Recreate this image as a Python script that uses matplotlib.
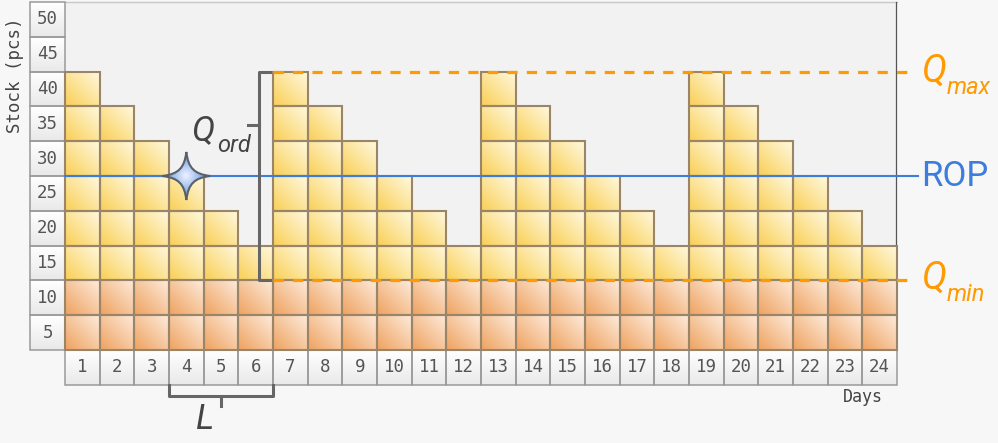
import numpy as np
import matplotlib
matplotlib.use("Agg")
import matplotlib.pyplot as plt
from matplotlib.patches import Rectangle, PathPatch
from matplotlib.path import Path
from matplotlib.colors import LinearSegmentedColormap

# data
days = list(range(1, 25))
stock = [40, 35, 30, 25, 20, 15, 40, 35, 30, 25, 20, 15,
         40, 35, 30, 25, 20, 15, 40, 35, 30, 25, 20, 15]
y_ticks = [5, 10, 15, 20, 25, 30, 35, 40, 45, 50]
box_size = 5
q_min = 10
q_max = 40
rop = 25
lead_days = [4, 5, 6]
rop_day = 4

yellow = LinearSegmentedColormap.from_list("y", ["#f9cf55", "#fff9e0"])
orange = LinearSegmentedColormap.from_list("o", ["#efa25f", "#fdebdc"])
gray = LinearSegmentedColormap.from_list("g", ["#e9e9e9", "#ffffff"])
starcm = LinearSegmentedColormap.from_list("s", ["#8aaee9", "#eef4ff"])

n = 40
xx, yy = np.meshgrid(np.linspace(0, 1, n), np.linspace(0, 1, n))
diag = (xx + yy) / 2
vert = yy

fig = plt.figure(figsize=(9.98, 4.43), dpi=100)
fig.patch.set_facecolor("#f7f7f7")
ax = fig.add_axes([0, 0, 1, 1])
cw, rh = 34.67, 34.8
xlim = (-65 / cw, (998 - 65) / cw)
ylim = ((350 - 443) / rh, 350 / rh)
ax.axis("off")

nrows = len(y_ticks)
ncols = len(days)
# plot background
ax.add_patch(Rectangle((0, 0), ncols, nrows, facecolor="#f2f2f2", edgecolor="none", zorder=0))
ax.plot([0, ncols], [nrows, nrows], color="#c8c8c8", lw=1, zorder=1)
ax.plot([ncols - 0.03, ncols - 0.03], [0, nrows], color="#555555", lw=0.9, zorder=1)

mono = "DejaVu Sans Mono"

def cell(x, y, label):
    ax.imshow(vert, extent=(x, x + 1, y, y + 1), cmap=gray, origin="lower",
              aspect="auto", zorder=2, interpolation="bilinear")
    ax.add_patch(Rectangle((x, y), 1, 1, facecolor="none", edgecolor="#9a9a9a", lw=1.1, zorder=3))
    ax.text(x + 0.5, y + 0.5, label, ha="center", va="center", fontsize=12.5,
            family=mono, color="#555555", zorder=4)

for i, t in enumerate(y_ticks):
    cell(-1, i, str(t))
for i, d in enumerate(days):
    cell(i, -1, str(d))

# stock boxes
for i, s in enumerate(stock):
    for j in range(s // box_size):
        cm = orange if (j + 1) * box_size <= q_min else yellow
        ax.imshow(diag, extent=(i, i + 1, j, j + 1), cmap=cm, origin="lower",
                  aspect="auto", zorder=5, interpolation="bilinear")
        ax.add_patch(Rectangle((i, j), 1, 1, facecolor="none", edgecolor="#9a8569",
                               lw=1.5, zorder=6))

# level lines
y_max = q_max / box_size
y_min = q_min / box_size
y_rop = rop / box_size
x_start = lead_days[-1]
orange_c = "#ff9a00"
ax.plot([x_start, ncols + 0.45], [y_max, y_max], color=orange_c, lw=2.3,
        dashes=(3.2, 2.9), zorder=8)
ax.plot([x_start, ncols + 0.45], [y_min, y_min], color=orange_c, lw=2.3,
        dashes=(3.2, 2.9), zorder=8)
ax.plot([0, ncols + 0.6], [y_rop, y_rop], color="#3d7ddb", lw=1.5, zorder=8)

xl = ncols + 0.7
ax.text(xl, y_max - 0.3, "Q", color=orange_c, fontsize=27, family="Roboto",
        style="italic", va="baseline", ha="left", zorder=9)
ax.text(xl + 0.72, y_max - 0.64, "max", color=orange_c, fontsize=17, family="Roboto",
        style="italic", va="baseline", ha="left", zorder=9)
ax.text(xl, y_min - 0.24, "Q", color=orange_c, fontsize=27, family="Roboto",
        style="italic", va="baseline", ha="left", zorder=9)
ax.text(xl + 0.72, y_min - 0.6, "min", color=orange_c, fontsize=17, family="Roboto",
        style="italic", va="baseline", ha="left", zorder=9)
ax.text(xl, y_rop, "ROP", color="#3d7ddb", fontsize=25, family="Roboto",
        va="center", ha="left", zorder=9)

# Q_ord bracket
bc = "#666666"
bx = x_start - 0.4
ax.plot([bx + 0.32, bx, bx, bx + 0.32], [y_max, y_max, y_min, y_min], color=bc,
        lw=2.2, solid_joinstyle="round", zorder=9)
ax.plot([bx, bx - 0.33], [6.47, 6.47], color=bc, lw=2.2, zorder=9)
ax.text(3.64, 6.03, "Q", color="#444444", fontsize=25, family="Roboto",
        style="italic", va="baseline", ha="left", zorder=9)
ax.text(4.38, 5.68, "ord", color="#444444", fontsize=17, family="Roboto",
        style="italic", va="baseline", ha="left", zorder=9)

# L bracket
lx0 = lead_days[0] - 1
lx1 = lead_days[-1]
ax.plot([lx0, lx0, lx1, lx1], [-1.02, -1.32, -1.32, -1.02], color=bc, lw=2.2, zorder=9)
ax.plot([(lx0 + lx1) / 2] * 2, [-1.32, -1.6], color=bc, lw=2.2, zorder=9)
ax.text(4.05, -2.27, "L", color="#444444", fontsize=25, family="Roboto",
        style="italic", va="baseline", ha="center", zorder=9)

# star marker at reorder point (4 points, concave sides)
cx, cy = rop_day - 0.5, y_rop
R = 0.69
verts, codes = [], []
for k in range(4):
    a = np.pi / 2 * k
    u = np.array([np.cos(a), np.sin(a)])
    v = np.array([np.cos(a + np.pi / 2), np.sin(a + np.pi / 2)])
    p0 = R * u
    c1 = R * (0.33 * u + 0.08 * v)
    c2 = R * (0.08 * u + 0.33 * v)
    p2 = R * v
    if k == 0:
        verts.append((cx + p0[0], cy + p0[1]))
        codes.append(Path.MOVETO)
    for p in (c1, c2, p2):
        verts.append((cx + p[0], cy + p[1]))
        codes.append(Path.CURVE4)
verts.append(verts[0])
codes.append(Path.CLOSEPOLY)
star = PathPatch(Path(verts, codes), facecolor="none", edgecolor="#5a6068", lw=1.5,
                 joinstyle="miter", zorder=11)
ax.add_patch(star)
rad = 1 - np.sqrt((xx - 0.5) ** 2 + (yy - 0.5) ** 2) * 3.0
im = ax.imshow(rad, extent=(cx - R, cx + R, cy - R, cy + R), cmap=starcm, origin="lower",
               aspect="auto", zorder=10, interpolation="bilinear", vmin=0, vmax=1)
im.set_clip_path(star)

ax.set_xlim(*xlim)
ax.set_ylim(*ylim)

# axis titles
ax.text(23.0, -1.35, "Days", fontsize=12, family=mono, color="#444444",
        ha="center", va="center")
ax.text(-1.44, 7.9, "Stock (pcs)", fontsize=12.5, family=mono, color="#444444",
        ha="center", va="center", rotation=90)

fig.savefig("out.png", dpi=100, facecolor=fig.get_facecolor())
